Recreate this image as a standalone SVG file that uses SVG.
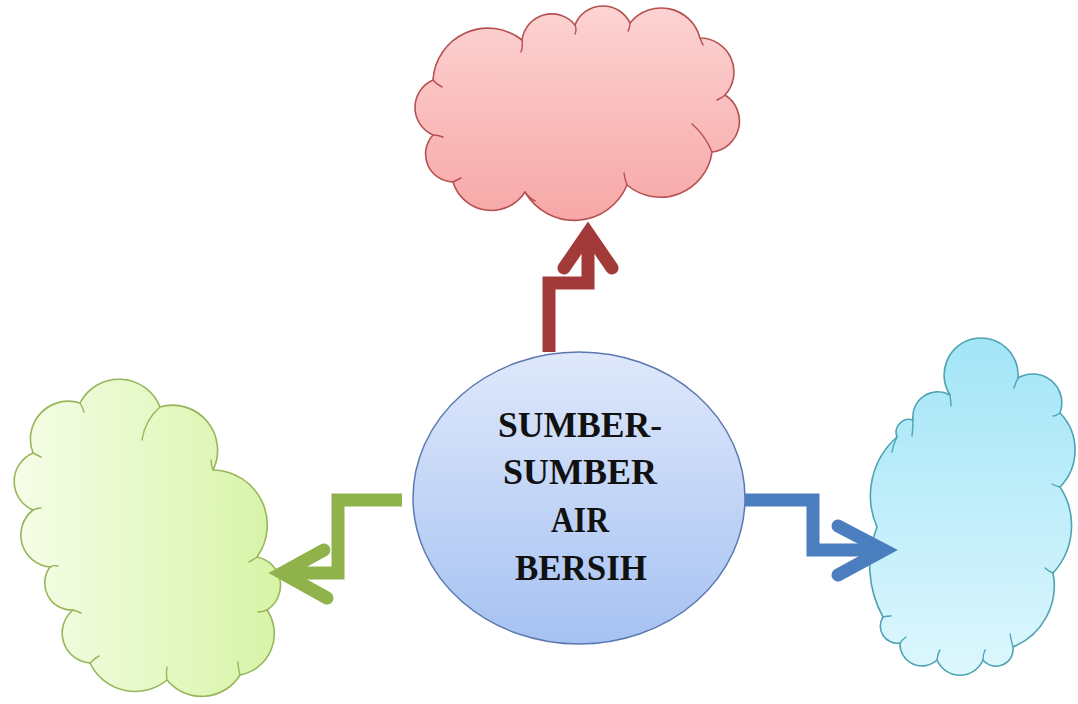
<svg xmlns="http://www.w3.org/2000/svg" width="1078" height="704" viewBox="0 0 1078 704">
<defs>
<linearGradient id="gRed" x1="0" y1="0" x2="0" y2="1"><stop offset="0" stop-color="#fdd3d3"/><stop offset="1" stop-color="#f7a7a7"/></linearGradient>
<linearGradient id="gGreen" x1="0" y1="0" x2="1" y2="0"><stop offset="0" stop-color="#f6fde8"/><stop offset="1" stop-color="#d6f4a6"/></linearGradient>
<linearGradient id="gBlue" x1="0" y1="0" x2="0" y2="1"><stop offset="0" stop-color="#a3e5f7"/><stop offset="1" stop-color="#ddf7fd"/></linearGradient>
<linearGradient id="gCenter" x1="0" y1="0" x2="0" y2="1"><stop offset="0" stop-color="#dfe8fb"/><stop offset="1" stop-color="#a6c2f2"/></linearGradient>
</defs>
<style>
.cloud{stroke-width:1.6;stroke-linejoin:round}
.inner{fill:none;stroke-width:1.4;stroke-linecap:round}
.conn{fill:none;stroke-width:13;stroke-linejoin:miter;stroke-linecap:butt}
.head{fill:none;stroke-width:13;stroke-linejoin:miter;stroke-linecap:round}
.lbl{font-family:"Liberation Serif","Times New Roman",serif;font-weight:bold;font-size:36px;fill:#111;text-anchor:middle}
</style>
<rect width="1078" height="704" fill="#ffffff"/>
<g id="cloud-top">
<path class="cloud" fill="url(#gRed)" stroke="#b5504f" d="M433,80 A55,55 0 0 1 522,40 A30,30 0 0 1 575,25 A30,30 0 0 1 630,23 A40,40 0 0 1 700,38 A34,34 0 0 1 725,95 A31,31 0 0 1 712,152 A52,52 0 0 1 627,185 A57,57 0 0 1 525,192 A40,40 0 0 1 453,182 A28,28 0 0 1 433,135 A30,30 0 0 1 433,80 Z"/>
<path class="inner" stroke="#b5504f" d="M433,80 Q436,84 442,87 M522,40 Q523,47 521,52 M575,25 Q577,30 575,34 M630,23 Q630,28 628,31 M700,38 Q702,43 703,45 M725,95 Q722,98 717,100 M712,152 Q705,135 692,124 M627,185 Q625,180 624,173 M525,192 Q529,198 535,201 M453,182 Q457,180 461,178 M433,135 Q438,135 443,137"/>
</g>
<g id="cloud-left">
<path class="cloud" fill="url(#gGreen)" stroke="#97b55b" d="M33,453 A38,38 0 0 1 80,403 A44,44 0 0 1 160,407 A45,45 0 0 1 213,470 A55,55 0 0 1 257,557 A29,29 0 0 1 267,610 A42,42 0 0 1 240,675 A45,45 0 0 1 167,680 A50,50 0 0 1 90,663 A30,30 0 0 1 73,610 A27,27 0 0 1 50,567 A32,32 0 0 1 33,510 A31,31 0 0 1 33,453 Z"/>
<path class="inner" stroke="#97b55b" d="M33,453 Q37,455 41,457 M80,403 Q83,408 84,412 M160,407 Q145,420 142,440 M213,470 Q211,465 211,460 M257,557 Q253,560 249,562 M267,610 Q262,612 258,612 M240,675 Q238,668 238,662 M167,680 Q166,672 167,667 M90,663 Q95,658 99,656 M73,610 Q77,611 81,613 M50,567 Q54,565 58,566 M33,510 Q37,508 41,508"/>
</g>
<g id="cloud-right">
<path class="cloud" fill="url(#gBlue)" stroke="#4ea3b5" d="M950,395 A37,37 0 1 1 1018,378 A29,29 0 0 1 1060,413 A53,53 0 0 1 1060,487 A70,70 0 0 1 1053,573 A66,66 0 0 1 1013,647 A17,17 0 0 1 983,660 A25,25 0 0 1 937,660 A22,22 0 0 1 900,643 A17,17 0 0 1 883,617 A106,106 0 0 1 877,527 A78,78 0 0 1 897,437 A13,13 0 0 1 913,420 A25,25 0 0 1 950,395 Z"/>
<path class="inner" stroke="#4ea3b5" d="M950,395 Q951,402 951,406 M1018,378 Q1015,384 1014,388 M1060,413 Q1056,416 1053,416 M1060,487 Q1055,486 1052,484 M1053,573 Q1048,571 1045,568 M1013,647 Q1011,640 1010,634 M983,660 Q983,654 985,650 M937,660 Q938,653 940,650 M900,643 Q903,639 906,637 M883,617 Q887,616 891,616 M897,437 Q893,445 892,452 M913,420 Q913,428 912,436"/>
</g>
<g id="connectors">
<path class="conn" stroke="#a33a3a" d="M549,352 V283 H588 V236"/>
<path class="head" stroke="#a33a3a" d="M564,268 L588,233 L612,268"/>
<path class="conn" stroke="#8fb24b" d="M402,500 H338 V573 H286"/>
<path class="head" stroke="#8fb24b" d="M324,550 L282,573 L327,598"/>
<path class="conn" stroke="#4a7ebf" d="M737,500 H813 V550 H880"/>
<path class="head" stroke="#4a7ebf" d="M838,526 L884,550 L838,575"/>
</g>
<g id="center">
<ellipse cx="579" cy="498" rx="166" ry="146" fill="url(#gCenter)" stroke="#5b79b0" stroke-width="1.5"/>
<text class="lbl" x="580" y="437" textLength="164" lengthAdjust="spacingAndGlyphs">SUMBER-</text>
<text class="lbl" x="580" y="484" textLength="154" lengthAdjust="spacingAndGlyphs">SUMBER</text>
<text class="lbl" x="580" y="532" textLength="58" lengthAdjust="spacingAndGlyphs">AIR</text>
<text class="lbl" x="581" y="580" textLength="132" lengthAdjust="spacingAndGlyphs">BERSIH</text>
</g>
</svg>
